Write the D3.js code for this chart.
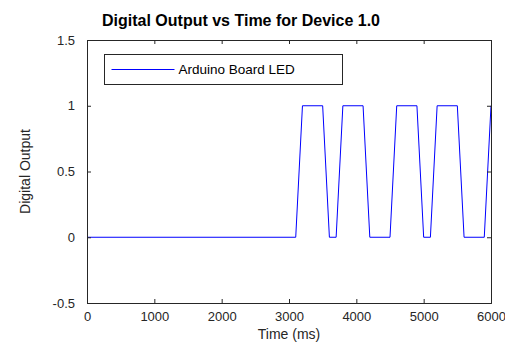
<!DOCTYPE html>
<html>
<head>
<meta charset="utf-8">
<script src="https://cdn.jsdelivr.net/npm/d3@7"></script>
<style>
  body { margin: 0; background: #fff; }
  svg { display: block; font-family: Arial, "Liberation Sans", sans-serif; }
</style>
</head>
<body>
<div class="chart"></div>
<script>
const width = 505, height = 356;

// LED state sampled from the plot (ms, on/off)
const times  = [0, 3100, 3200, 3500, 3600, 3700, 3800, 4100, 4200, 4500, 4600, 4900, 5000, 5100, 5200, 5500, 5600, 5900, 6000];
const states = [0, 0,    1,    1,    0,    0,    1,    1,    0,    0,    1,    1,    0,    0,    1,    1,    0,    0,    1];
const xTicks = [0, 1000, 2000, 3000, 4000, 5000, 6000];
const yTicks = [-0.5, 0, 0.5, 1, 1.5];
const seriesName = "Arduino Board LED";

const margin = {top: 40, right: 14, bottom: 53, left: 87};
const x0 = margin.left, x1 = width - margin.right;
const y0 = height - margin.bottom, y1 = margin.top;

const svg = d3.select(".chart")
    .append("svg")
    .attr("width", width)
    .attr("height", height);

const x = d3.scaleLinear().domain([0, 6000]).range([x0, x1]);
const y = d3.scaleLinear().domain([-0.5, 1.5]).range([y0, y1]);

const axisColor = "#262626";
const tickLen = 4;

// data line
const data = times.map((t, i) => ({t: t, v: states[i]}));
svg.append("path")
    .datum(data)
    .attr("fill", "none")
    .attr("stroke", "#0000ff")
    .attr("stroke-width", 1)
    .attr("d", d3.line().x(d => x(d.t)).y(d => y(d.v)));

// axes, ticks pointing inward on all four sides
svg.append("g")
    .attr("transform", `translate(0,${y0})`)
    .call(d3.axisBottom(x).tickValues(xTicks).tickSize(-tickLen).tickPadding(9).tickFormat(d => String(d)));
svg.append("g")
    .attr("transform", `translate(0,${y1})`)
    .call(d3.axisTop(x).tickValues(xTicks).tickSize(-tickLen).tickFormat(""));
svg.append("g")
    .attr("transform", `translate(${x0},0)`)
    .call(d3.axisLeft(y).tickValues(yTicks).tickSize(-tickLen).tickPadding(12).tickFormat(d => String(d)));
svg.append("g")
    .attr("transform", `translate(${x1},0)`)
    .call(d3.axisRight(y).tickValues(yTicks).tickSize(-tickLen).tickFormat(""));

svg.selectAll(".domain").attr("stroke", axisColor);
svg.selectAll(".tick line").attr("stroke", axisColor);
svg.selectAll(".tick text")
    .attr("fill", axisColor)
    .attr("font-size", 13)
    .attr("font-family", "Arial, 'Liberation Sans', sans-serif");

// titles
svg.append("text")
    .attr("x", (x0 + x1) / 2 - 48)
    .attr("y", 26)
    .attr("text-anchor", "middle")
    .attr("font-weight", "bold")
    .attr("font-size", 16)
    .attr("fill", "#000")
    .text("Digital Output vs Time for Device 1.0");

svg.append("text")
    .attr("x", (x0 + x1) / 2)
    .attr("y", 339)
    .attr("text-anchor", "middle")
    .attr("font-size", 14)
    .attr("fill", axisColor)
    .text("Time (ms)");

svg.append("text")
    .attr("transform", `translate(30,${(y0 + y1) / 2}) rotate(-90)`)
    .attr("text-anchor", "middle")
    .attr("font-size", 14)
    .attr("fill", axisColor)
    .text("Digital Output");

// legend
const legend = svg.append("g").attr("transform", "translate(104.5,54.5)");
legend.append("rect")
    .attr("width", 238)
    .attr("height", 30)
    .attr("fill", "#fff")
    .attr("stroke", axisColor);
legend.append("line")
    .attr("x1", 7).attr("x2", 70)
    .attr("y1", 15).attr("y2", 15)
    .attr("stroke", "#0000ff");
legend.append("text")
    .attr("x", 74)
    .attr("y", 19.5)
    .attr("font-size", 13.5)
    .attr("fill", "#000")
    .text(seriesName);
</script>
</body>
</html>
